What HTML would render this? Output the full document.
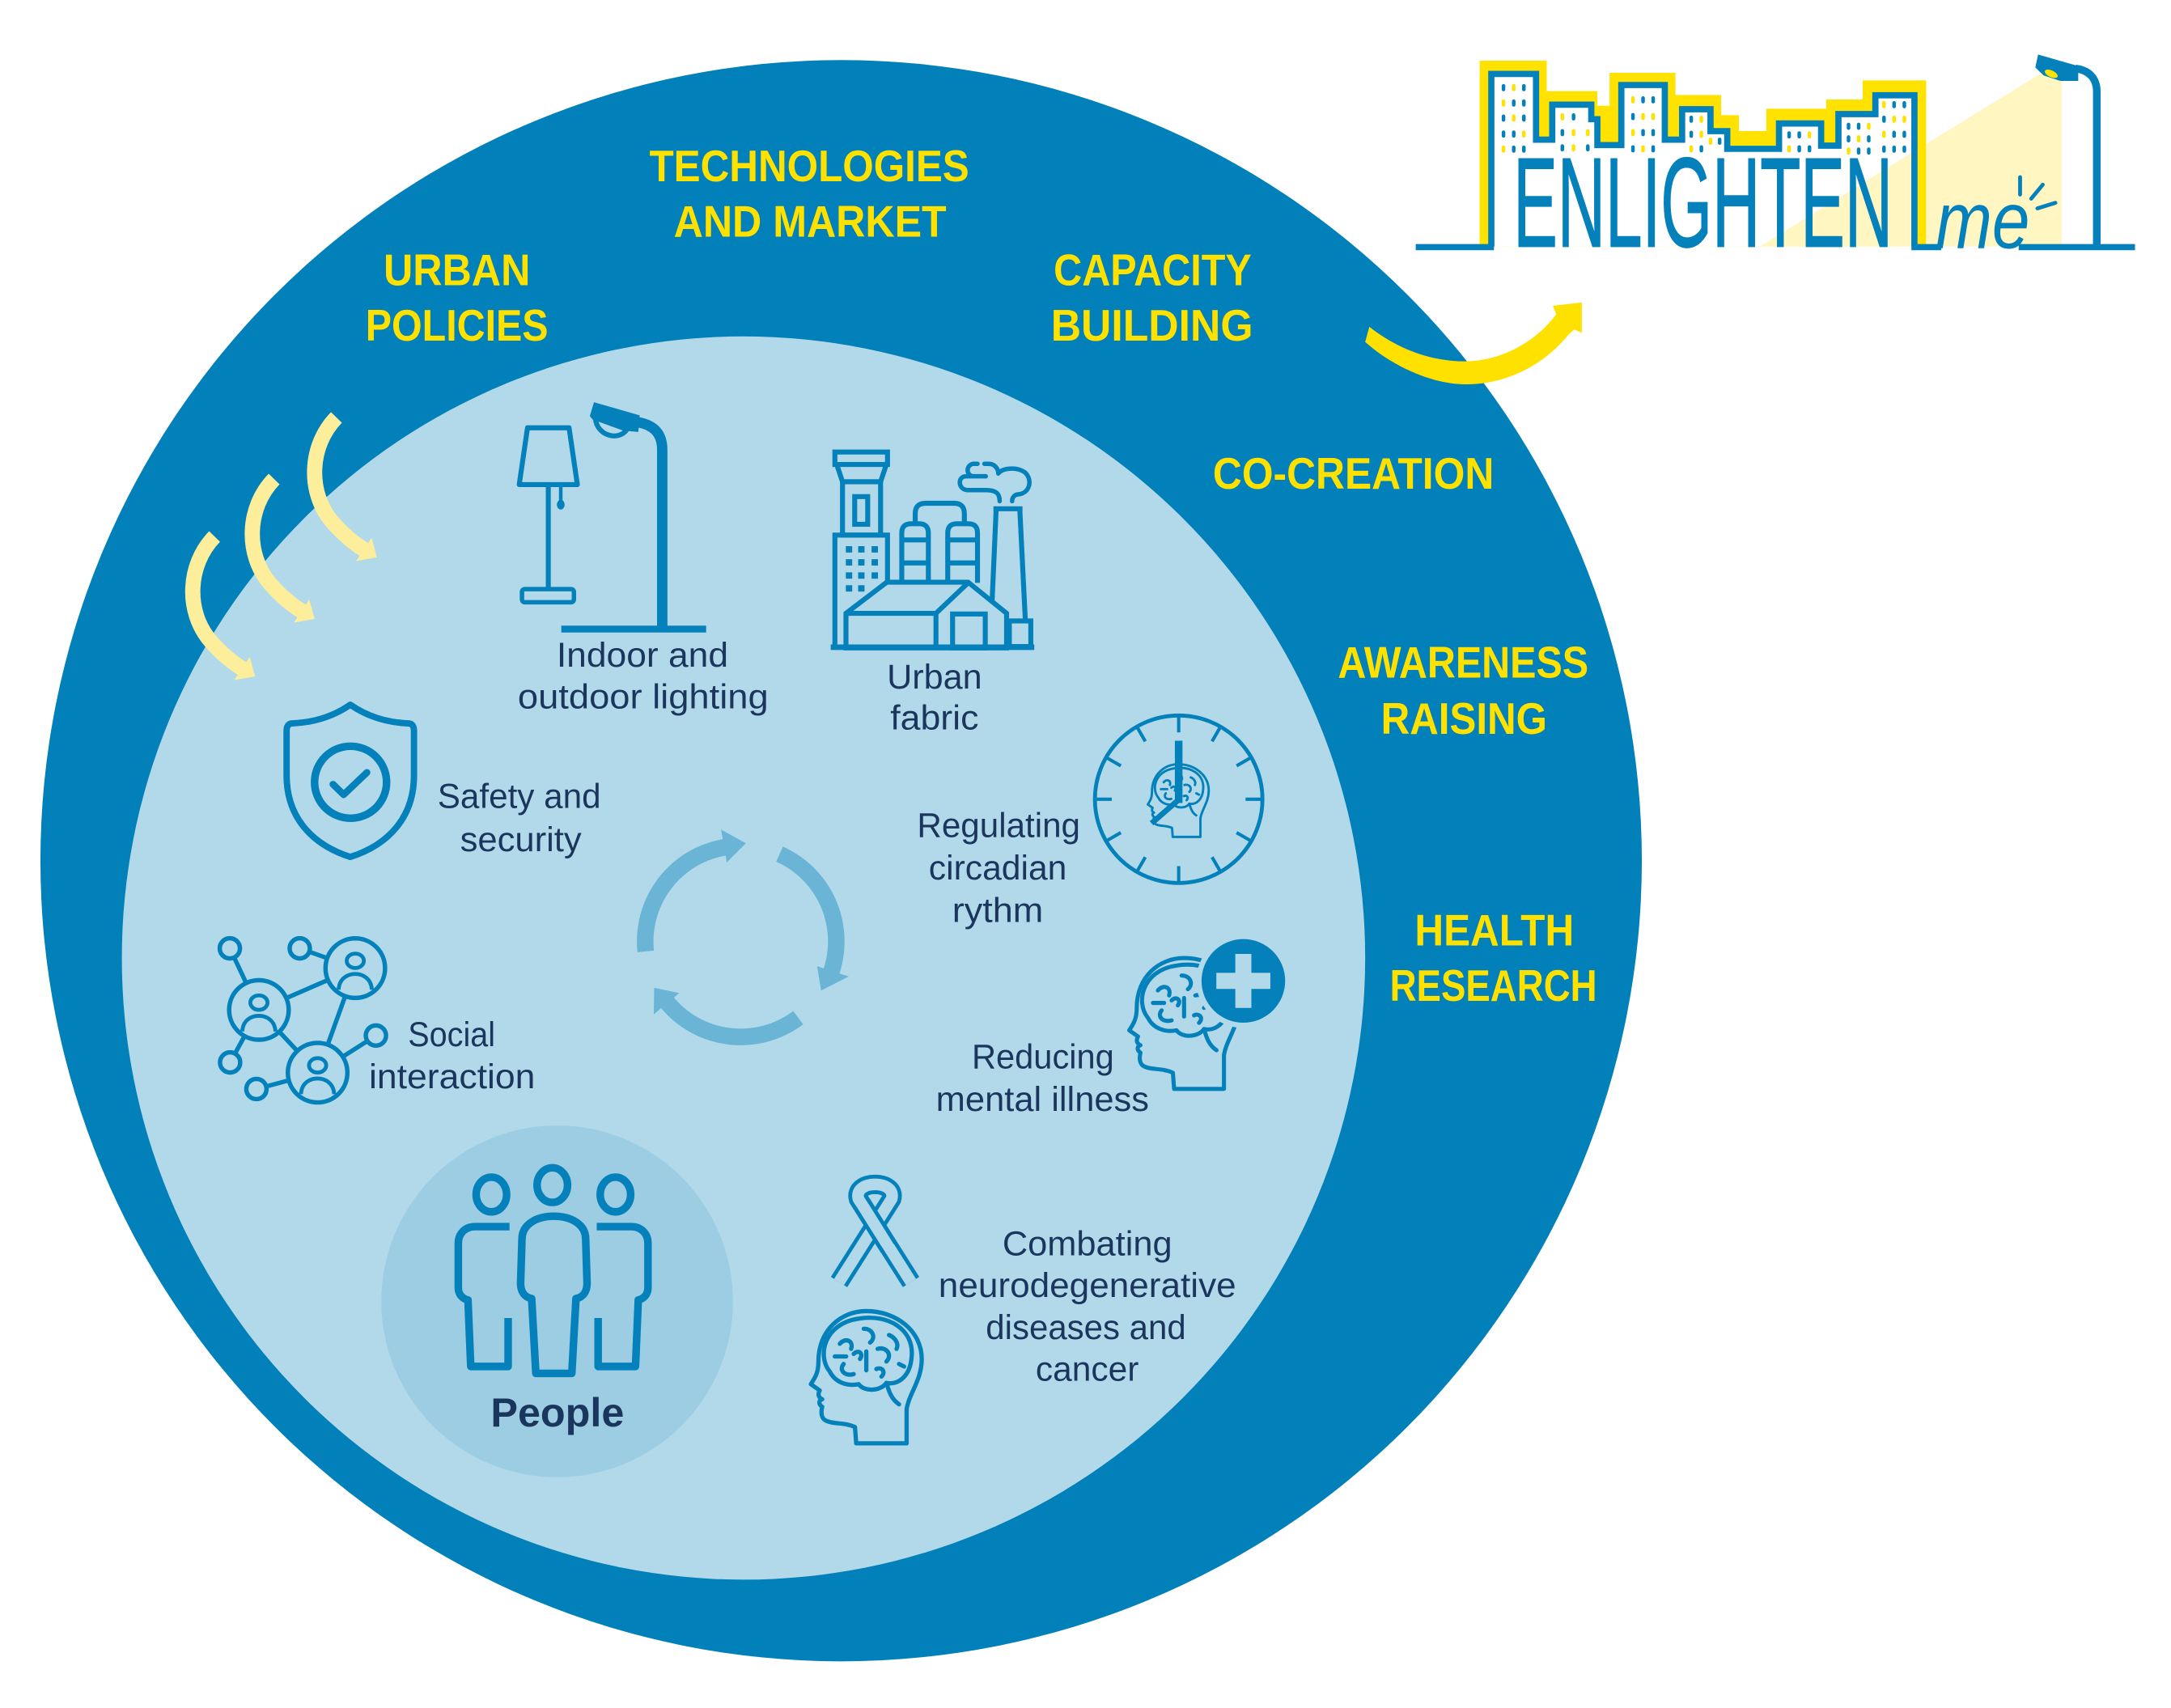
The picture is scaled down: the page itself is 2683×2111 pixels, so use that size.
<!DOCTYPE html>
<html><head><meta charset="utf-8"><title>EnlightenMe diagram</title>
<style>
html,body{margin:0;padding:0;background:#fff;}
svg{display:block;}
text{font-family:"Liberation Sans",Arial,sans-serif;}
</style></head>
<body>
<svg xmlns="http://www.w3.org/2000/svg" width="2683" height="2111" viewBox="0 0 1568 1233.7">
<defs>
  <g id="head" fill="none" stroke-linejoin="round" stroke-linecap="round">
    <path d="M80 105 L40 105 L39 92 C30 88 22 90 16 87 C12 85 12 80 13 76 C10 74 10 71 13 70 C9 68 10 65 11 63 L4 58 C8 52 10 48 10 40 C10 15 28 0 48 0 C72 0 92 16 92 38 C92 55 82 65 80 78 Z"/>
    <path d="M19 48 C9 36 14 10 42 6 C66 2 86 15 84 36 C83 52 73 59 64 57 C59 64 46 64 42 58 C32 60 23 56 19 48 Z"/>
    <path d="M64 57 C66 64 68 70 74 74"/>
    <path d="M27 26 C31 21 38 23 36 30 M46 14 C53 14 56 21 51 25 M30 42 C26 47 31 52 38 50 M57 30 C64 28 69 35 64 40 M48 32 L48 47 M66 19 C71 21 74 26 72 30 M23 36 L32 36 M38 34 C42 30 46 34 43 38 M56 46 C60 44 64 48 60 52 M74 42 L78 44"/>
  </g>
  <path id="palearrow" d="M243 301.5 C223 322 222 356 240 377 C247 385 255 392 263 397" fill="none" stroke-width="11"/>
</defs>

<rect width="1568" height="1233.7" fill="#ffffff"/>

<!-- main circles -->
<circle cx="607.5" cy="621.7" r="578.3" fill="#0180B9"/>
<circle cx="537" cy="692" r="449" fill="#B2D9E9"/>
<circle cx="402.4" cy="940" r="127" fill="#9CCDE3"/>

<!-- yellow outer labels -->
<g fill="#FFE100" font-weight="bold" font-size="32">
  <text x="469" y="131" textLength="231" lengthAdjust="spacingAndGlyphs">TECHNOLOGIES</text>
  <text x="486.6" y="171" textLength="197" lengthAdjust="spacingAndGlyphs">AND MARKET</text>
  <text x="277" y="206" textLength="106" lengthAdjust="spacingAndGlyphs">URBAN</text>
  <text x="264" y="246" textLength="132" lengthAdjust="spacingAndGlyphs">POLICIES</text>
  <text x="761" y="206" textLength="143" lengthAdjust="spacingAndGlyphs">CAPACITY</text>
  <text x="759" y="246" textLength="146" lengthAdjust="spacingAndGlyphs">BUILDING</text>
  <text x="876" y="353" textLength="203" lengthAdjust="spacingAndGlyphs">CO-CREATION</text>
  <text x="966.3" y="489.4" textLength="181" lengthAdjust="spacingAndGlyphs">AWARENESS</text>
  <text x="997.4" y="530" textLength="120" lengthAdjust="spacingAndGlyphs">RAISING</text>
  <text x="1021.8" y="682.8" textLength="115" lengthAdjust="spacingAndGlyphs">HEALTH</text>
  <text x="1003.8" y="722.8" textLength="149.6" lengthAdjust="spacingAndGlyphs">RESEARCH</text>
</g>

<!-- big yellow arrow to logo -->
<path d="M986 247 C1006 265 1035 277.5 1058 277.6 C1086 278 1114 265 1133 241.6 L1137 238 L1142.5 240.5 L1142.5 218.5 L1121.5 220.8 L1124 227 C1110 246 1085 261 1058 261 C1032 261 1008 251 989 236 Z" fill="#FFE100"/>

<!-- pale yellow arrows -->
<g stroke="#FCEE9B" fill="#FCEE9B">
  <use href="#palearrow"/>
  <polygon points="268.4,388.5 272.2,402.6 257.2,405.2" stroke="none"/>
  <g transform="translate(-45 44.5)">
    <use href="#palearrow"/>
    <polygon points="268.4,388.5 272.2,402.6 257.2,405.2" stroke="none"/>
  </g>
  <g transform="translate(-88 86)">
    <use href="#palearrow"/>
    <polygon points="268.4,388.5 272.2,402.6 257.2,405.2" stroke="none"/>
  </g>
</g>

<!-- cycle arrows -->
<g fill="#6AB4D6">
  <path d="M460.4 687.8 A75 75 0 0 1 522 606.1 L520.8 599.2 L538.7 609.1 L524.9 622.9 L524.1 618 A63 63 0 0 0 472.3 686.6 Z"/>
  <path d="M565.5 611.5 A75 75 0 0 1 606.3 703.2 L613 705.3 L593 715.5 L590.2 697.9 L594.9 699.5 A63 63 0 0 0 560.6 622.4 Z"/>
  <path d="M580.1 739.9 A75 75 0 0 1 477.5 728.2 L472.2 732.7 L472.5 713.5 L490.6 717.3 L486.7 720.5 A63 63 0 0 0 572.9 730.3 Z"/>
</g>

<!-- ICONS -->
<g stroke="#0481BA" fill="none" stroke-linejoin="round">
  <!-- floor lamp -->
  <polygon points="381,309 411,309 417,350 375,350" stroke-width="3.6"/>
  <line x1="396" y1="350" x2="396" y2="426" stroke-width="3.6"/>
  <rect x="377" y="425.5" width="37.5" height="9.5" rx="2" stroke-width="3.2"/>
  <line x1="405" y1="351" x2="405" y2="362" stroke-width="2.6"/>
  <ellipse cx="405" cy="364.5" rx="2.8" ry="3.5" fill="#0481BA" stroke="none"/>
  <!-- street lamp -->
  <path d="M478.3 455 L478.3 325 C478.3 313 472 307 461 305" stroke-width="7.5"/>
  <polygon points="426,300.5 429,290.5 462,300 461,312 450,311 428,303" fill="#0481BA" stroke="none"/>
  <path d="M430 302 C431 315 447 319 453 310" stroke-width="3.6"/>
  <line x1="405.4" y1="454.4" x2="510" y2="454.4" stroke-width="5"/>

  <!-- factory -->
  <g stroke-width="3.6" stroke-linejoin="miter">
    <rect x="603" y="326.5" width="38" height="9"/>
    <polyline points="604.5,336 608.5,348 636,348 640,336"/>
    <rect x="608.5" y="348" width="27.5" height="38.5"/>
    <rect x="617.3" y="358.7" width="9.4" height="20"/>
    <rect x="603" y="386.5" width="38" height="81"/>
    <path d="M651.3 421 V385 Q651.3 378.3 658 378.3 H663.8 Q670.5 378.3 670.5 385 V421 M651.3 390 H670.5 M651.3 406.6 H670.5"/>
    <path d="M684.5 421 V385 Q684.5 378.3 691 378.3 H699.5 Q706 378.3 706 385 V421 M684.5 390 H706 M684.5 406.6 H706"/>
    <path d="M661 378 V371 Q661 363.5 668.5 363.5 H689 Q696.5 363.5 696.5 371 V378"/>
    <path d="M719.5 367 L716 447 M736.5 367 L740.5 447 M717.5 367.5 H738.5"/>
    <path d="M722 362 C722 356 719 354 712 354 L699 354 C692 354 691 344 698 344 L712 344 M703 344 C698 344 697 336 703 335 L706 335 M711 335 L714 335 C718 335 721 338 721 342 M721 342 C724 338 734 337 740 341 C746 346 744 356 736 357 C733 357 731 359 731 362" stroke-width="3.2" stroke-linecap="round"/>
    <rect x="729" y="448.5" width="15.5" height="18.5"/>
    <polygon points="611,468 611,443 640.5,420.5 699.2,420.5 727,443 727,468" fill="#B2D9E9"/>
    <path d="M611 443 H676 M676 468 V443 L699.2 421"/>
    <rect x="688" y="443.5" width="23.6" height="24.5"/>
    <line x1="600" y1="467.5" x2="747" y2="467.5" stroke-width="4"/>
  </g>
  <g fill="#0481BA" stroke="none">
    <rect x="610.9" y="394.5" width="4.6" height="4.6"/><rect x="619.8" y="394.5" width="4.6" height="4.6"/><rect x="629.5" y="394.5" width="4.6" height="4.6"/>
    <rect x="610.9" y="403.9" width="4.6" height="4.6"/><rect x="619.8" y="403.9" width="4.6" height="4.6"/><rect x="629.5" y="403.9" width="4.6" height="4.6"/>
    <rect x="610.9" y="413.4" width="4.6" height="4.6"/><rect x="619.8" y="413.4" width="4.6" height="4.6"/><rect x="629.5" y="413.4" width="4.6" height="4.6"/>
    <rect x="610.9" y="422.7" width="4.6" height="4.6"/><rect x="619.8" y="422.7" width="4.6" height="4.6"/>
  </g>

  <!-- shield -->
  <path d="M253 509 C240 518 225 522 211 522.5 C208 522.6 207 525 207 528 L207 560 C207 590 225 610 253 619 C281 610 299 590 299 560 L299 528 C299 525 298 522.6 295 522.5 C281 522 266 518 253 509 Z" stroke-width="4.6"/>
  <circle cx="253.2" cy="565" r="26" stroke-width="5.5"/>
  <polyline points="240.5,566.5 248.2,574 265,558" stroke-width="5" stroke-linecap="round"/>

  <!-- social network -->
  <g stroke-width="3.2">
    <path d="M166 685 L187 729.5 M216.5 685 L256.6 699.3 M187 729.5 L256.6 699.3 M256.6 699.3 L229.4 774.8 M187 729.5 L229.4 774.8 M229.4 774.8 L271.5 748 M187 729.5 L166.2 767.4 M229.4 774.8 L185.2 786.6"/>
    <g fill="#B2D9E9">
      <circle cx="166" cy="685" r="7.3"/>
      <circle cx="216.5" cy="685" r="7.3"/>
      <circle cx="271.5" cy="748" r="7.3"/>
      <circle cx="166.2" cy="767.4" r="7.3"/>
      <circle cx="185.2" cy="786.6" r="7.3"/>
      <circle cx="256.6" cy="699.3" r="21.5"/>
      <circle cx="187" cy="729.5" r="21.5"/>
      <circle cx="229.4" cy="774.8" r="21.5"/>
    </g>
    <g stroke-width="2.8">
      <ellipse cx="256.6" cy="694" rx="6.2" ry="5.2"/>
      <path d="M244.6 714.8 C245 706 252 703.5 256.6 703.5 C261 703.5 268 706 268.6 714.8"/>
      <ellipse cx="187" cy="724.2" rx="6.2" ry="5.2"/>
      <path d="M175 745 C175.4 736.2 182.4 733.7 187 733.7 C191.4 733.7 198.4 736.2 199 745"/>
      <ellipse cx="229.4" cy="769.5" rx="6.2" ry="5.2"/>
      <path d="M217.4 790.3 C217.8 781.5 224.8 779 229.4 779 C233.8 779 240.8 781.5 241.4 790.3"/>
    </g>
  </g>

  <!-- clock -->
  <circle cx="851.3" cy="577.3" r="60.5" stroke-width="2.8"/>
  <g stroke-width="2.4">
    <line x1="851.3" y1="517.8" x2="851.3" y2="529"/>
    <line x1="851.3" y1="636.8" x2="851.3" y2="625.6"/>
    <line x1="791.8" y1="577.3" x2="803" y2="577.3"/>
    <line x1="910.8" y1="577.3" x2="899.6" y2="577.3"/>
    <line x1="881" y1="525.8" x2="875.4" y2="535.5"/>
    <line x1="902.8" y1="547.6" x2="893.1" y2="553.2"/>
    <line x1="902.8" y1="607" x2="893.1" y2="601.4"/>
    <line x1="881" y1="628.8" x2="875.4" y2="619.1"/>
    <line x1="821.6" y1="628.8" x2="827.2" y2="619.1"/>
    <line x1="799.8" y1="607" x2="809.5" y2="601.4"/>
    <line x1="799.8" y1="547.6" x2="809.5" y2="553.2"/>
    <line x1="821.6" y1="525.8" x2="827.2" y2="535.5"/>
  </g>
  <use href="#head" transform="translate(827 552) scale(0.5)" stroke-width="3.4"/>
  <line x1="851.3" y1="580" x2="851.3" y2="535" stroke-width="5.5" stroke-linecap="butt"/>
  <line x1="852" y1="577" x2="831.7" y2="594.7" stroke-width="4"/>

  <!-- mental illness head -->
  <use href="#head" transform="translate(812 692) scale(0.9)" stroke-width="3.3"/>
  <circle cx="898" cy="708.5" r="34" fill="#B2D9E9" stroke="none"/>
  <circle cx="898" cy="708.5" r="30.2" fill="#0481BA" stroke="none"/>
  <path d="M892.2 689 H903.8 V702.7 H917.5 V714.3 H903.8 V728 H892.2 V714.3 H878.5 V702.7 H892.2 Z" fill="#B2D9E9" stroke="none"/>

  <!-- ribbon -->
  <path d="M606 926 L644 866 C648 852 616 852 620 866 L658 926" stroke-width="14" stroke-linejoin="round"/>
  <path d="M606 926 L644 866 C648 852 616 852 620 866 L658 926" stroke="#B2D9E9" stroke-width="8.4" stroke-linejoin="round"/>
  <line x1="624" y1="872" x2="640" y2="897.3" stroke="#B2D9E9" stroke-width="8.8"/>
  <line x1="626.7" y1="866" x2="646.7" y2="898" stroke-width="2.8"/>
  <line x1="617.3" y1="872" x2="637.3" y2="904" stroke-width="2.8"/>

  <!-- combat head -->
  <use href="#head" transform="translate(582 947) scale(0.91)" stroke-width="3.4"/>

  <!-- people -->
  <g stroke-width="5.5">
    <ellipse cx="354.9" cy="862.8" rx="11" ry="12.5"/>
    <ellipse cx="398.9" cy="856" rx="11" ry="12.5"/>
    <ellipse cx="444.5" cy="862.8" rx="11" ry="12.5"/>
    <path d="M368 886 L343 886 C336 886 331 891 331 898 L331 930 C331 935 334 938 338 939 L340 987 L367 987 L367 952"/>
    <path d="M431 886 L456 886 C463 886 468 891 468 898 L468 930 C468 935 465 938 461 939 L459 987 L432 987 L432 952"/>
    <path d="M387 992 L384 938 C379 937 376 933 376 927 L377 895 C377 884 388 878.5 400 878.5 C412 878.5 423 884 423 895 L424 927 C424 933 421 937 416 938 L413 992 Z"/>
  </g>
</g>

<!-- dark labels -->
<g fill="#1B365D" font-size="25">
  <text x="402" y="481.6" textLength="124" lengthAdjust="spacingAndGlyphs">Indoor and</text>
  <text x="374" y="511.8" textLength="181" lengthAdjust="spacingAndGlyphs">outdoor lighting</text>
  <text x="640.6" y="497.2" textLength="68.7" lengthAdjust="spacingAndGlyphs">Urban</text>
  <text x="643" y="527" textLength="63.8" lengthAdjust="spacingAndGlyphs">fabric</text>
  <text x="316" y="583.6" textLength="118" lengthAdjust="spacingAndGlyphs">Safety and</text>
  <text x="332.3" y="614.8" textLength="87.7" lengthAdjust="spacingAndGlyphs">security</text>
  <text x="662.4" y="604.6" textLength="117.8" lengthAdjust="spacingAndGlyphs">Regulating</text>
  <text x="670.8" y="635.3" textLength="99.7" lengthAdjust="spacingAndGlyphs">circadian</text>
  <text x="687.7" y="666" textLength="65.8" lengthAdjust="spacingAndGlyphs">rythm</text>
  <text x="294.7" y="755.7" textLength="63" lengthAdjust="spacingAndGlyphs">Social</text>
  <text x="266.5" y="785.9" textLength="120" lengthAdjust="spacingAndGlyphs">interaction</text>
  <text x="701.9" y="771.8" textLength="102.7" lengthAdjust="spacingAndGlyphs">Reducing</text>
  <text x="676" y="802.5" textLength="153.9" lengthAdjust="spacingAndGlyphs">mental illness</text>
  <text x="724" y="906.7" textLength="122.6" lengthAdjust="spacingAndGlyphs">Combating</text>
  <text x="677.8" y="936.9" textLength="215" lengthAdjust="spacingAndGlyphs">neurodegenerative</text>
  <text x="712" y="967.1" textLength="144.6" lengthAdjust="spacingAndGlyphs">diseases and</text>
  <text x="748" y="997.3" textLength="74.5" lengthAdjust="spacingAndGlyphs">cancer</text>
  <text x="354.4" y="1030.4" font-size="29" font-weight="bold" textLength="96.4" lengthAdjust="spacingAndGlyphs">People</text>
</g>

<!-- LOGO -->
<g>
  <polygon fill="#FFE200" points="1068.7,178 1068.7,43.8 1117.1,43.8 1117.1,65.8 1153.7,65.8 1153.7,76.4 1162.5,76.4 1162.5,52.6 1210.1,52.6 1210.1,68.6 1243.1,68.6 1243.1,83.2 1255.9,83.2 1255.9,94.7 1275.7,94.7 1275.7,78.5 1319,78.5 1319,71.9 1345.3,71.9 1345.3,58.1 1391.1,58.1 1391.1,178"/>
  <path fill="#ffffff" stroke="none" d="M1077.1 178 V53.4 H1109.4 V100.9 H1121.1 V75.6 H1149.3 V86.1 H1153.7 V104.8 H1171 V61.4 H1202.4 V100.9 H1214.9 V78.9 H1235.4 V94.7 H1247.5 V107.5 H1284.9 V89.2 H1315.3 V105.2 H1327.8 V82.4 H1354.5 V68.8 H1382.7 V178"/>
  <polygon fill="#FFF6C2" points="1474,53 1489,57 1489,178 1271,178"/>
  <rect x="1385" y="58.1" width="6.1" height="120" fill="#FFE200"/>
  <path fill="none" stroke="#0481BA" stroke-width="4.5" d="M1077.1 178 V53.4 H1109.4 V100.9 H1121.1 V75.6 H1149.3 V86.1 H1153.7 V104.8 H1171 V61.4 H1202.4 V100.9 H1214.9 V78.9 H1235.4 V94.7 H1247.5 V107.5 H1284.9 V89.2 H1315.3 V105.2 H1327.8 V82.4 H1354.5 V68.8 H1382.7 V178"/>
  <!-- windows -->
  <g fill="#0481BA">
    <rect x="1084.6" y="60.7" width="2.6" height="5.2" rx="1.3"/><rect x="1099.3" y="60.7" width="2.6" height="5.2" rx="1.3"/>
    <rect x="1092" y="71.8" width="2.6" height="5.2" rx="1.3"/><rect x="1099.3" y="71.8" width="2.6" height="5.2" rx="1.3"/>
    <rect x="1084.6" y="82.7" width="2.6" height="5.2" rx="1.3"/><rect x="1099.3" y="82.7" width="2.6" height="5.2" rx="1.3"/>
    <rect x="1084.6" y="94.2" width="2.6" height="5.2" rx="1.3"/><rect x="1092" y="94.2" width="2.6" height="5.2" rx="1.3"/>
    <rect x="1092" y="105.1" width="2.6" height="5.2" rx="1.3"/><rect x="1099.3" y="105.1" width="2.6" height="5.2" rx="1.3"/>
    <rect x="1135.2" y="81.8" width="2.6" height="5.2" rx="1.3"/><rect x="1127.1" y="93.2" width="2.6" height="5.2" rx="1.3"/>
    <rect x="1127.1" y="104.2" width="2.6" height="5.2" rx="1.3"/><rect x="1145.5" y="104.2" width="2.6" height="5.2" rx="1.3"/>
    <rect x="1185.4" y="69.5" width="2.6" height="5.2" rx="1.3"/><rect x="1192.7" y="69.5" width="2.6" height="5.2" rx="1.3"/>
    <rect x="1178.1" y="81.6" width="2.6" height="5.2" rx="1.3"/><rect x="1185.4" y="93.2" width="2.6" height="5.2" rx="1.3"/>
    <rect x="1192.7" y="93.2" width="2.6" height="5.2" rx="1.3"/><rect x="1178.1" y="104.9" width="2.6" height="5.2" rx="1.3"/>
    <rect x="1192.7" y="104.9" width="2.6" height="5.2" rx="1.3"/>
    <rect x="1220.2" y="83.5" width="2.6" height="5.2" rx="1.3"/><rect x="1220.2" y="94.4" width="2.6" height="5.2" rx="1.3"/>
    <rect x="1227.5" y="104.9" width="2.6" height="5.2" rx="1.3"/><rect x="1240.7" y="99.4" width="2.6" height="5.2" rx="1.3"/>
    <rect x="1290.9" y="94.8" width="2.6" height="5.2" rx="1.3"/><rect x="1298.2" y="94.8" width="2.6" height="5.2" rx="1.3"/>
    <rect x="1298.2" y="104.9" width="2.6" height="5.2" rx="1.3"/><rect x="1305.6" y="104.9" width="2.6" height="5.2" rx="1.3"/>
    <rect x="1333.8" y="88.6" width="2.6" height="5.2" rx="1.3"/><rect x="1341.1" y="88.6" width="2.6" height="5.2" rx="1.3"/>
    <rect x="1333.8" y="97.7" width="2.6" height="5.2" rx="1.3"/><rect x="1348.4" y="97.7" width="2.6" height="5.2" rx="1.3"/>
    <rect x="1341.1" y="106.5" width="2.6" height="5.2" rx="1.3"/><rect x="1348.4" y="106.5" width="2.6" height="5.2" rx="1.3"/>
    <rect x="1366.7" y="73" width="2.6" height="5.2" rx="1.3"/><rect x="1374.1" y="73" width="2.6" height="5.2" rx="1.3"/>
    <rect x="1359.4" y="83.5" width="2.6" height="5.2" rx="1.3"/><rect x="1366.7" y="94.4" width="2.6" height="5.2" rx="1.3"/>
    <rect x="1374.1" y="94.4" width="2.6" height="5.2" rx="1.3"/><rect x="1359.4" y="105.1" width="2.6" height="5.2" rx="1.3"/>
    <rect x="1366.7" y="105.1" width="2.6" height="5.2" rx="1.3"/><rect x="1374.1" y="105.1" width="2.6" height="5.2" rx="1.3"/>
  </g>
  <g fill="#FFE200">
    <rect x="1092" y="60.7" width="2.6" height="5.2" rx="1.3"/><rect x="1084.6" y="71.8" width="2.6" height="5.2" rx="1.3"/>
    <rect x="1092" y="82.7" width="2.6" height="5.2" rx="1.3"/><rect x="1099.3" y="94.2" width="2.6" height="5.2" rx="1.3"/>
    <rect x="1084.6" y="105.1" width="2.6" height="5.2" rx="1.3"/>
    <rect x="1127.1" y="81.8" width="2.6" height="5.2" rx="1.3"/><rect x="1135.2" y="93.2" width="2.6" height="5.2" rx="1.3"/>
    <rect x="1145.5" y="93.2" width="2.6" height="5.2" rx="1.3"/><rect x="1135.2" y="104.2" width="2.6" height="5.2" rx="1.3"/>
    <rect x="1178.1" y="69.5" width="2.6" height="5.2" rx="1.3"/><rect x="1185.4" y="81.6" width="2.6" height="5.2" rx="1.3"/>
    <rect x="1192.7" y="81.6" width="2.6" height="5.2" rx="1.3"/><rect x="1178.1" y="93.2" width="2.6" height="5.2" rx="1.3"/>
    <rect x="1185.4" y="104.9" width="2.6" height="5.2" rx="1.3"/>
    <rect x="1227.5" y="83.5" width="2.6" height="5.2" rx="1.3"/><rect x="1227.5" y="94.4" width="2.6" height="5.2" rx="1.3"/>
    <rect x="1220.2" y="104.9" width="2.6" height="5.2" rx="1.3"/><rect x="1234.1" y="99.4" width="2.6" height="5.2" rx="1.3"/>
    <rect x="1305.6" y="94.8" width="2.6" height="5.2" rx="1.3"/><rect x="1290.9" y="104.9" width="2.6" height="5.2" rx="1.3"/>
    <rect x="1348.4" y="88.6" width="2.6" height="5.2" rx="1.3"/><rect x="1341.1" y="97.7" width="2.6" height="5.2" rx="1.3"/>
    <rect x="1333.8" y="106.5" width="2.6" height="5.2" rx="1.3"/>
    <rect x="1359.4" y="73" width="2.6" height="5.2" rx="1.3"/><rect x="1366.7" y="83.5" width="2.6" height="5.2" rx="1.3"/>
    <rect x="1374.1" y="83.5" width="2.6" height="5.2" rx="1.3"/><rect x="1359.4" y="94.4" width="2.6" height="5.2" rx="1.3"/>
  </g>
  <text x="1093" y="178" font-size="92" textLength="274" lengthAdjust="spacingAndGlyphs" fill="#0481BA" stroke="#0481BA" stroke-width="0.9">ENLIGHTEN</text>
  <g stroke="#0481BA" stroke-width="4.5" fill="none">
    <line x1="1022.5" y1="178.5" x2="1079" y2="178.5"/>
    <line x1="1380.5" y1="178.5" x2="1402" y2="178.5"/>
    <line x1="1458" y1="178.5" x2="1542" y2="178.5"/>
  </g>
  <text x="1398" y="179" font-size="58" font-style="italic" textLength="68" lengthAdjust="spacingAndGlyphs" fill="#0481BA">me</text>
  <g stroke="#0481BA" stroke-width="2.8" stroke-linecap="round">
    <line x1="1459" y1="128" x2="1459" y2="140.5"/>
    <line x1="1475.4" y1="133.4" x2="1467" y2="143.5"/>
    <line x1="1471.5" y1="150.5" x2="1484.5" y2="146.5"/>
  </g>
  <path d="M1514.4 178 L1514.4 66 C1514.4 56 1508 50.5 1499 49.5" fill="none" stroke="#0481BA" stroke-width="5.5"/>
  <polygon points="1470,48.7 1472,39.4 1501,47.7 1501,58.4 1488,58.4 1476,54.5" fill="#0481BA"/>
  <ellipse cx="1481.5" cy="53.3" rx="5" ry="2.4" transform="rotate(25 1481.5 53.3)" fill="#FFE200"/>
</g>
</svg>
</body></html>
